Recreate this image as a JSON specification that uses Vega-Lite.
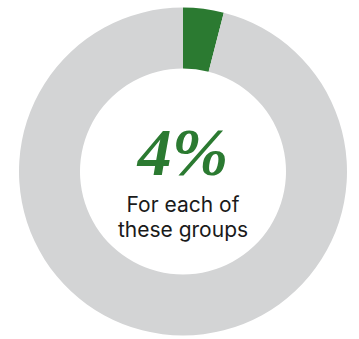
{
  "$schema": "https://vega.github.io/schema/vega-lite/v6.json",
  "width": 359,
  "height": 339,
  "autosize": {"type": "fit", "contains": "padding"},
  "padding": {"left": 7, "top": 4, "right": 0, "bottom": 0},
  "background": "white",
  "view": {"stroke": null},
  "layer": [
    {
      "data": {"values": [
        {"segment": "These groups", "share": 4, "rank": 1},
        {"segment": "Other", "share": 96, "rank": 2}
      ]},
      "mark": {"type": "arc", "outerRadius": 164, "innerRadius": 103},
      "encoding": {
        "theta": {"field": "share", "type": "quantitative", "stack": true},
        "order": {"field": "rank", "type": "quantitative"},
        "color": {
          "field": "segment",
          "type": "nominal",
          "scale": {"domain": ["These groups", "Other"], "range": ["#2b7a31", "#d3d4d5"]},
          "legend": null
        }
      }
    },
    {
      "data": {"values": [{"label": "4%"}]},
      "mark": {"type": "text", "font": "Liberation Serif", "fontStyle": "italic", "fontWeight": "bold", "fontSize": 68, "color": "#2b7a31", "baseline": "alphabetic", "align": "center", "dy": 3},
      "encoding": {"text": {"field": "label"}}
    },
    {
      "data": {"values": [{"label": "For each of"}]},
      "mark": {"type": "text", "font": "Inter", "fontSize": 21, "color": "#1a1a1a", "align": "center", "baseline": "middle", "dy": 34},
      "encoding": {"text": {"field": "label"}}
    },
    {
      "data": {"values": [{"label": "these groups"}]},
      "mark": {"type": "text", "font": "Inter", "fontSize": 21, "color": "#1a1a1a", "align": "center", "baseline": "middle", "dy": 59},
      "encoding": {"text": {"field": "label"}}
    }
  ]
}
